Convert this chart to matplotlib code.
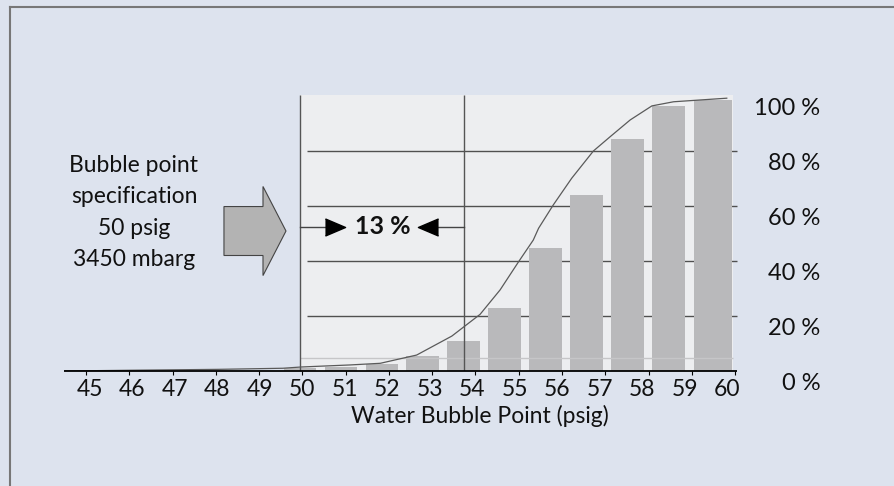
import matplotlib
matplotlib.use("Agg")
import matplotlib.pyplot as plt
from matplotlib.patches import Rectangle, FancyArrow
from matplotlib.lines import Line2D

plt.rcParams['font.family'] = ['Lato', 'DejaVu Sans']

# ---- data ----
psig = [50, 51, 52, 53, 54, 55, 56, 57, 58, 59, 60]
share_pct = [1.0, 1.3, 2.5, 5.5, 10.9, 23.0, 44.6, 64.0, 84.4, 96.5, 98.5]

curve_psig = [44.25, 46.0, 48.0, 49.58, 50.02, 51.22, 51.96, 52.85, 53.71, 54.40,
              54.89, 55.34, 55.70, 55.83, 56.19, 56.64, 57.17, 57.58, 58.07,
              58.60, 59.13, 60.43]
curve_pct = [0.0, 0.3, 0.6, 1.0, 1.45, 2.2, 2.8, 5.8, 12.7, 20.6,
             29.5, 39.7, 47.6, 51.9, 60.4, 70.1, 80.0, 85.2, 91.3,
             96.4, 97.9, 99.2]

tick_values = [45, 46, 47, 48, 49, 50, 51, 52, 53, 54, 55, 56, 57, 58, 59, 60]
pct_levels = [0, 20, 40, 60, 80, 100]
pct_labels = ['0 %', '20 %', '40 %', '60 %', '80 %', '100 %']
spec_lines = ['Bubble point', 'specification', '50 psig', '3450 mbarg']
spec_value = 50
marker_value = 54
gap_label = '13 %'
x_title = 'Water Bubble Point (psig)'

# ---- figure ----
W, H = 894, 486
bg = '#dde3ee'
fig = plt.figure(figsize=(W / 100, H / 100), dpi=100, facecolor=bg)

# plot area in pixels: x 64..737, y 95..371
ax = fig.add_axes([64 / W, (H - 371) / H, (737 - 64) / W, (371 - 95) / H])
ax.set_xlim(44.23, 60.68)
ax.set_ylim(0, 100.36)
ax.axis('off')

# light plot background
ax.add_patch(Rectangle((spec_value, 0), 60.59 - spec_value, 100.36,
                       facecolor='#edeef0', edgecolor='none', zorder=0))

# grid lines
ax.hlines(pct_levels[1:-1], spec_value + 0.17, 60.68, color='#505050', lw=1.0, zorder=1,
          clip_on=False)

# bars
lefts = [p - 0.4 for p in psig]
widths = [0.8] * (len(psig) - 1) + [0.94]
lefts[-1] = psig[-1] - 0.38
ax.bar(lefts, share_pct, width=widths, align='edge', color='#b9b9bb',
       edgecolor='none', zorder=2)

# light reference line
ax.hlines(4.6, spec_value, 60.59, color='#c6c6c8', lw=1.0, zorder=3)

# vertical lines
ax.vlines([spec_value, marker_value], 0, 100.36, color='#555555', lw=1.0, zorder=4)

# cumulative curve
ax.plot(curve_psig, curve_pct, color='#5a5a5a', lw=0.9, zorder=5,
        solid_joinstyle='round')

# baseline
ax.hlines(0, 44.23, 60.68, color='black', lw=1.3, zorder=6, clip_on=False)

# small tick marks under baseline
tick_marks = [44.23 + (22 + 43.27 * i) / 40.91 for i in range(len(tick_values))]
ax.vlines(tick_marks, -1.5, 0, color='black', lw=0.8, clip_on=False, zorder=6)

# x tick labels
for i, v in enumerate(tick_values):
    ax.text(44.866 + 1.0384 * i, -6.6, str(v), ha='center', va='center',
            fontsize=16.5, color='#111111', clip_on=False)

# right percentage labels
for lv, lab in zip(pct_levels, pct_labels):
    ax.text(62.72, lv - 4.7, lab, ha='right', va='center', fontsize=17,
            color='#111111', clip_on=False)

# x title
ax.text(54.4, -16.2, x_title, ha='center', va='center', fontsize=16.5,
        color='#111111', clip_on=False)

# specification text
ax.text(45.94, 57.6, '\n'.join(spec_lines), ha='center', va='center',
        fontsize=16.5, color='#111111', linespacing=1.6)

# big arrow
ax.add_patch(FancyArrow(48.14, 50.9, 1.516, 0, width=17.8, head_width=32.4,
                        head_length=0.562, length_includes_head=True,
                        facecolor='#b3b3b3', edgecolor='#444444', lw=0.8, zorder=3))

# 13 % gap annotation
y_gap = 52.4
ax.plot([spec_value, 50.86], [y_gap, y_gap], color='#444444', lw=1.0, zorder=4)
ax.plot([53.13, marker_value], [y_gap, y_gap], color='#444444', lw=1.0, zorder=4)
tri_r = [(-1, -0.85), (1, 0), (-1, 0.85)]
tri_l = [(1, -0.85), (-1, 0), (1, 0.85)]
ax.plot([50.86], [y_gap], marker=tri_r, ms=14.5, color='black', zorder=6)
ax.plot([53.13], [y_gap], marker=tri_l, ms=14.5, color='black', zorder=6)
ax.text(52.03, y_gap, gap_label, ha='center', va='center', fontsize=18,
        fontweight='bold', color='#111111', zorder=6)

# frame lines (left and top)
fig.add_artist(Line2D([10 / W, 10 / W], [0, (H - 7) / H], transform=fig.transFigure,
                      color='#777777', lw=1.5))
fig.add_artist(Line2D([10 / W, 1], [(H - 7) / H, (H - 7) / H], transform=fig.transFigure,
                      color='#777777', lw=1.5))

fig.savefig('out.png', dpi=100, facecolor=bg)
